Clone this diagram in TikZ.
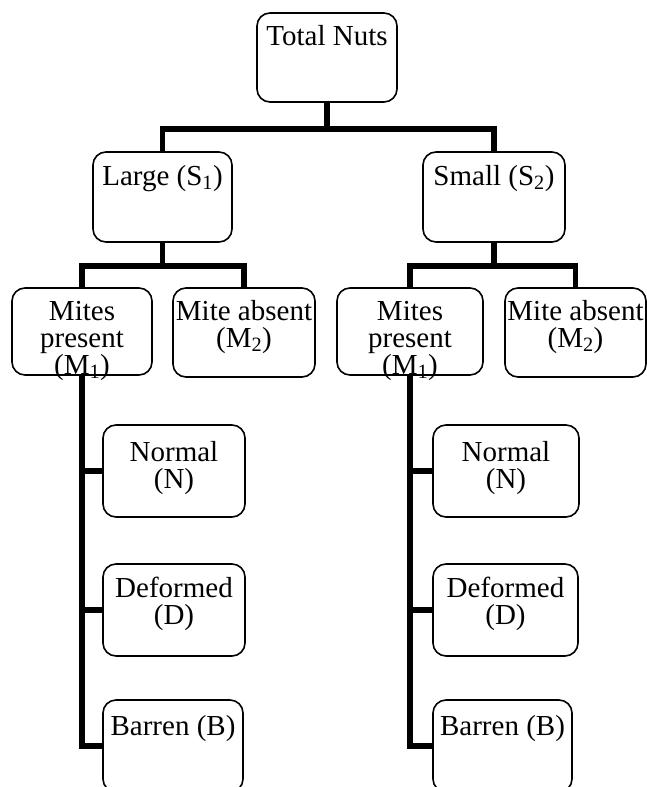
\documentclass[tikz,border=0pt]{standalone}
\usepackage{fontspec}
\setmainfont{Liberation Serif}
\begin{document}
\begin{tikzpicture}[x=1pt,y=-1pt,
  box/.style={draw, line width=1.6pt, rounded corners=13pt, inner sep=0pt, minimum height=90pt},
  lbl/.style={font=\fontsize{29}{27}\selectfont, inner sep=0pt, align=center, anchor=base},
  conn/.style={line width=5.5pt, line join=miter}]
\useasboundingbox (0,0) rectangle (647,787);
\clip (0,0) rectangle (647,787);

% boxes
\node[box, minimum width=140pt, minimum height=89pt] (tot) at (327,57.5) {};
\node[box, minimum width=139pt] (large) at (162.5,197) {};
\node[box, minimum width=142pt] (small) at (494,197) {};
\node[box, minimum width=140pt, minimum height=87pt] (mpL) at (82,331.5) {};
\node[box, minimum width=142pt, minimum height=89pt] (maL) at (244,332.5) {};
\node[box, minimum width=146pt, minimum height=87pt] (mpR) at (410,331.5) {};
\node[box, minimum width=141pt, minimum height=89pt] (maR) at (575.5,332.5) {};
\node[box, minimum width=142pt, minimum height=92pt] (nL) at (174,471) {};
\node[box, minimum width=142pt, minimum height=92pt] (dL) at (174,610) {};
\node[box, minimum width=140pt, minimum height=92pt] (bL) at (173,746) {};
\node[box, minimum width=146pt, minimum height=92pt] (nR) at (506,471) {};
\node[box, minimum width=145pt, minimum height=92pt] (dR) at (505.5,610) {};
\node[box, minimum width=139pt, minimum height=92pt] (bR) at (502.5,746) {};

% texts (base anchor = baseline of last line)
\node[lbl] (tTot) at (327,45) {Total Nuts};
\node[lbl] (tLarge) at (162.5,185) {Large (S\textsubscript{1})};
\node[lbl] (tSmall) at (494,185) {Small (S\textsubscript{2})};
\node[lbl] (tmpL) at (82,374) {Mites\\present\\(M\textsubscript{1})};
\node[lbl] (tmaL) at (244,347) {Mite absent\\(M\textsubscript{2})};
\node[lbl] (tmpR) at (410,374) {Mites\\present\\(M\textsubscript{1})};
\node[lbl] (tmaR) at (575.5,347) {Mite absent\\(M\textsubscript{2})};
\node[lbl] (tnL) at (174,488) {Normal\\(N)};
\node[lbl] (tdL) at (174,624) {Deformed\\(D)};
\node[lbl] (tbL) at (173,735) {Barren (B)};
\node[lbl] (tnR) at (506,488) {Normal\\(N)};
\node[lbl] (tdR) at (505.5,624) {Deformed\\(D)};
\node[lbl] (tbR) at (502.5,735) {Barren (B)};

% connectors
\coordinate (j1) at (327,129);
\coordinate (j2L) at (162.5,266);
\coordinate (j2R) at (494,266);
\draw[conn] (tot.south) -- (j1);
\draw[conn] (large.north) |- (j1) -| (small.north);
\draw[conn] (large.south) -- (j2L);
\draw[conn] (mpL.north) |- (j2L) -| (maL.north);
\draw[conn] (small.south) -- (j2R);
\draw[conn] (mpR.north) |- (j2R) -| (maR.north);

\draw[conn] (mpL.south) |- (bL.west);
\draw[conn] (mpL.south |- nL.west) -- (nL.west);
\draw[conn] (mpL.south |- dL.west) -- (dL.west);
\draw[conn] (mpR.south) |- (bR.west);
\draw[conn] (mpR.south |- nR.west) -- (nR.west);
\draw[conn] (mpR.south |- dR.west) -- (dR.west);
\end{tikzpicture}
\end{document}
